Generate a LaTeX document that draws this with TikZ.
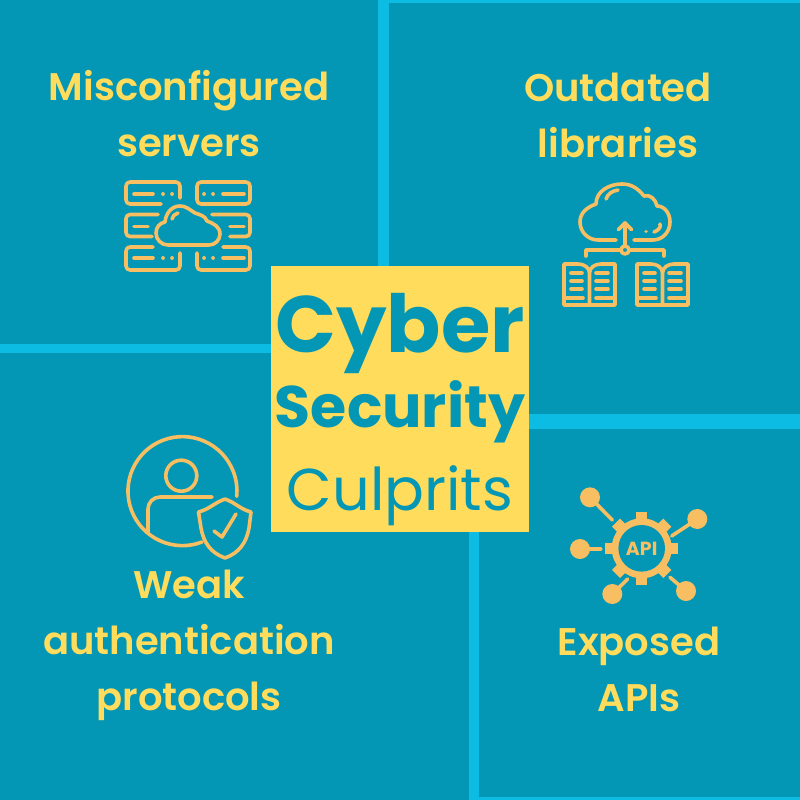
\documentclass[tikz,border=0pt]{standalone}
\usepackage{fontspec}
\setmainfont{Poppins}
\newfontfamily\semifont{Poppins SemiBold}
\usepackage{tikz}
\definecolor{panelblue}{HTML}{0497B5}
\definecolor{stripblue}{HTML}{0CBCE3}
\definecolor{titleyellow}{HTML}{FFDC5C}
\definecolor{iconorange}{HTML}{F8BE62}
\tikzset{
	strip/.style={fill=stripblue,draw=none},
	culprit/.style={text=titleyellow,font=\fontsize{38.5}{56}\selectfont\semifont,align=center,inner sep=0pt},
	iconline/.style={draw=iconorange,line width=3.6pt,line cap=round,line join=round},
	titleword/.style={text=panelblue,inner sep=0pt,anchor=base},
}
\begin{document}
\begin{tikzpicture}[x=1pt,y=-1pt]
			
			\useasboundingbox (0,0) rectangle (800,800);
			\fill[panelblue] (0,0) rectangle (800,800);
			
			\fill[strip] (378,0) rectangle (389,345);
			\fill[strip] (389,0) rectangle (800,3.5);
			\fill[strip] (0,343.5) rectangle (378,352.5);
			\fill[strip] (469,414) rectangle (800,428.5);
			\fill[strip] (469,414) rectangle (478.5,800);
			\fill[strip] (478.5,796.5) rectangle (800,800);
			
			\fill[titleyellow] (270.5,265.5) rectangle (529,532);
			\node[titleword,font=\fontsize{80}{82}\selectfont\bfseries] (cyber) at (400,352) {Cyber};
			\node[titleword,font=\fontsize{58.6}{60}\selectfont\bfseries] (security) at (400,427) {Security};
			\node[titleword,font=\fontsize{59}{60}\selectfont] (culprits) at (400,510.5) {Culprits};
			
			\node[culprit] (servers) at (189,114) {Misconfigured\\servers};
			\node[culprit] (libraries) at (618,115) {Outdated\\libraries};
			\node[culprit] (auth) at (189,645.5) {Weak\\authentication\\protocols};
			\node[culprit] (apis) at (639,669) {Exposed\\APIs};
			
			\begin{scope}[iconline]
				\draw (161,204) -- (130,204) arc[start angle=90,end angle=180,radius=4] -- (126,186) arc[start angle=180,end angle=270,radius=4] -- (176,182) arc[start angle=270,end angle=360,radius=4] -- (180,198);
				\draw (201,204) arc[start angle=90,end angle=180,radius=4] -- (197,186) arc[start angle=180,end angle=270,radius=4] -- (246,182) arc[start angle=270,end angle=360,radius=4] -- (250,200) arc[start angle=0,end angle=90,radius=4] -- cycle;
				\draw (158,214.5) -- (130,214.5) arc[start angle=270,end angle=180,radius=4] -- (126,232.5) arc[start angle=180,end angle=90,radius=4] -- (152,236.5);
				\draw (212,214.5) -- (246,214.5) arc[start angle=270,end angle=360,radius=4] -- (250,232.5) arc[start angle=0,end angle=90,radius=4] -- (230,236.5);
				\draw (153,247) -- (130,247) arc[start angle=270,end angle=180,radius=4] -- (126,266) arc[start angle=180,end angle=90,radius=4] -- (176,270) arc[start angle=90,end angle=0,radius=4] -- (180,253);
				\draw (197,253) -- (197,266) arc[start angle=180,end angle=90,radius=4] -- (246,270) arc[start angle=90,end angle=0,radius=4] -- (250,251) arc[start angle=0,end angle=-90,radius=4] -- (223,247);
				\foreach \dashy/\dashl/\dashr in {194/153/223,226.5/148/230,258/153/223}{
					\draw (134,\dashy) -- (\dashl,\dashy);
					\draw (\dashr,\dashy) -- (244,\dashy);
				}
				\foreach \doty in {194,258}{
					\foreach \dotx in {163,172,204,213}{
						\draw (\dotx,\doty) -- (\dotx+0.1,\doty);
					}
				}
				\draw (168,245) -- (209,245) to[out=0,in=-90] (220,234) to[out=90,in=-20] (207,221) to[out=110,in=-20] (195,213) to[out=150,in=0] (180,206) to[out=180,in=85] (165,222) to[out=190,in=90] (156,233) to[out=-90,in=180] (168,245);
				\draw (172,219) to[out=80,in=200] (178,213);
			\end{scope}
			
			\begin{scope}[iconline]
				\draw (616,240) -- (598,240) to[out=180,in=-90] (580,222) to[out=90,in=200] (596,204) to[out=90,in=180] (622,184) to[out=0,in=130] (644,196) to[out=20,in=100] (657,206) to[out=0,in=90] (670,222) to[out=-90,in=0] (653,240) -- (634,240);
				\draw (606,199) to[out=70,in=190] (618,190);
				\draw (660,224) to[out=-70,in=20] (654,232);
				\draw (646,231.5) -- (646.1,231.5);
				\draw (625,246) -- (625,223);
				\draw (618.5,229.5) -- (625,223) -- (631.5,229.5);
				\draw (586,256) -- (586,250) -- (664,250) -- (664,256);
				\draw[fill=panelblue] (625,250) circle (4);
				\foreach \bookx in {0,73}{
					\begin{scope}[xshift=\bookx*1pt]
						\draw (589.5,273) to[out=90,in=0] (578,264) -- (564,264) -- (564,305) -- (615,305) -- (615,264) -- (601,264) to[out=180,in=90] (589.5,273) -- (589.5,305);
						\draw (564,298) -- (583,298);
						\draw (596,298) -- (615,298);
						\foreach \liney in {273,281,289}{
							\draw (571,\liney) -- (582,\liney);
							\draw (596,\liney) -- (608,\liney);
						}
					\end{scope}
				}
			\end{scope}
			
			\begin{scope}[iconline]
				\draw (202,542) arc[start angle=69,end angle=365.5,radius=54.5];
				\draw (181.3,475.7) circle (15.5);
				\draw (212,497) -- (160,497) arc[start angle=270,end angle=180,radius=12] -- (148,532);
				\draw (225,499) to[out=-20,in=165] (251,512) -- (249,528) to[out=-100,in=20] (225,558) to[out=160,in=-80] (201,528) -- (198.5,512) to[out=15,in=200] (225,499);
				\draw (214,531) -- (222,537) -- (236,514);
				\foreach \tipx/\tipy/\endx/\endy in {590/497.3/612.3/520, 697.3/519/671.7/536, 580/549/600.7/549, 612.3/594/627.7/579, 686/591/670/577.3}{
					\draw (\tipx,\tipy) -- (\endx,\endy);
					\fill[iconorange] (\tipx,\tipy) circle (10);
				}
			\end{scope}
			\foreach \toothang in {0,45,...,315}{
				\fill[iconorange,rotate around={\toothang:(641.7,548.3)}] (636,512) rectangle (647.4,522);
			}
			\fill[iconorange] (641.7,548.3) circle (30);
			\fill[panelblue] (641.7,548.3) circle (23.3);
			\node[text=iconorange,font=\fontsize{19}{20}\selectfont\bfseries,inner sep=0pt] (apiword) at (641.7,549) {API};
			
\end{tikzpicture}
\end{document}
